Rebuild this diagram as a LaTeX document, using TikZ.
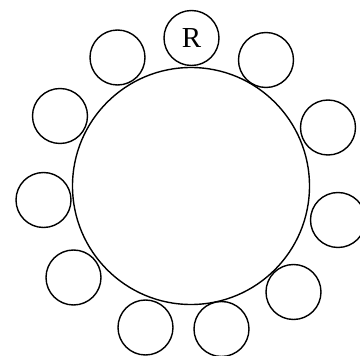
\documentclass[tikz,border=0pt]{standalone}
\usepackage{fontspec}
\setmainfont{Liberation Serif}
\usetikzlibrary{positioning}

\begin{document}
\begin{tikzpicture}[
  x=1pt, y=-1pt,
  tableTop/.style={circle, draw, line width=1.4pt, minimum size=237pt,
    inner sep=0pt},
  seat/.style={circle, draw, line width=1.4pt, minimum size=55pt,
    inner sep=0pt, font=\fontsize{29}{34}\selectfont}
]
\useasboundingbox (0,0) rectangle (360,356);

\coordinate (c0) at (191.5,38); % R
\coordinate (c1) at (266,60);
\coordinate (c2) at (328,127.5);
\coordinate (c3) at (338,220);
\coordinate (c4) at (293.5,292);
\coordinate (c5) at (221.5,329);
\coordinate (c6) at (145.5,327.5);
\coordinate (c7) at (73.5,277.5);
\coordinate (c8) at (43.5,200);
\coordinate (c9) at (60,116);
\coordinate (c10) at (117.5,57.5);

% Round table.
\node[tableTop] (table) at (191,186) {};

% Seats round it.
\node[seat] (seatR) at (c0) {R};
\node[seat] (seat1) at (c1) {};
\node[seat] (seat2) at (c2) {};
\node[seat] (seat3) at (c3) {};
\node[seat] (seat4) at (c4) {};
\node[seat] (seat5) at (c5) {};
\node[seat] (seat6) at (c6) {};
\node[seat] (seat7) at (c7) {};
\node[seat] (seat8) at (c8) {};
\node[seat] (seat9) at (c9) {};
\node[seat] (seat10) at (c10) {};
\end{tikzpicture}
\end{document}
